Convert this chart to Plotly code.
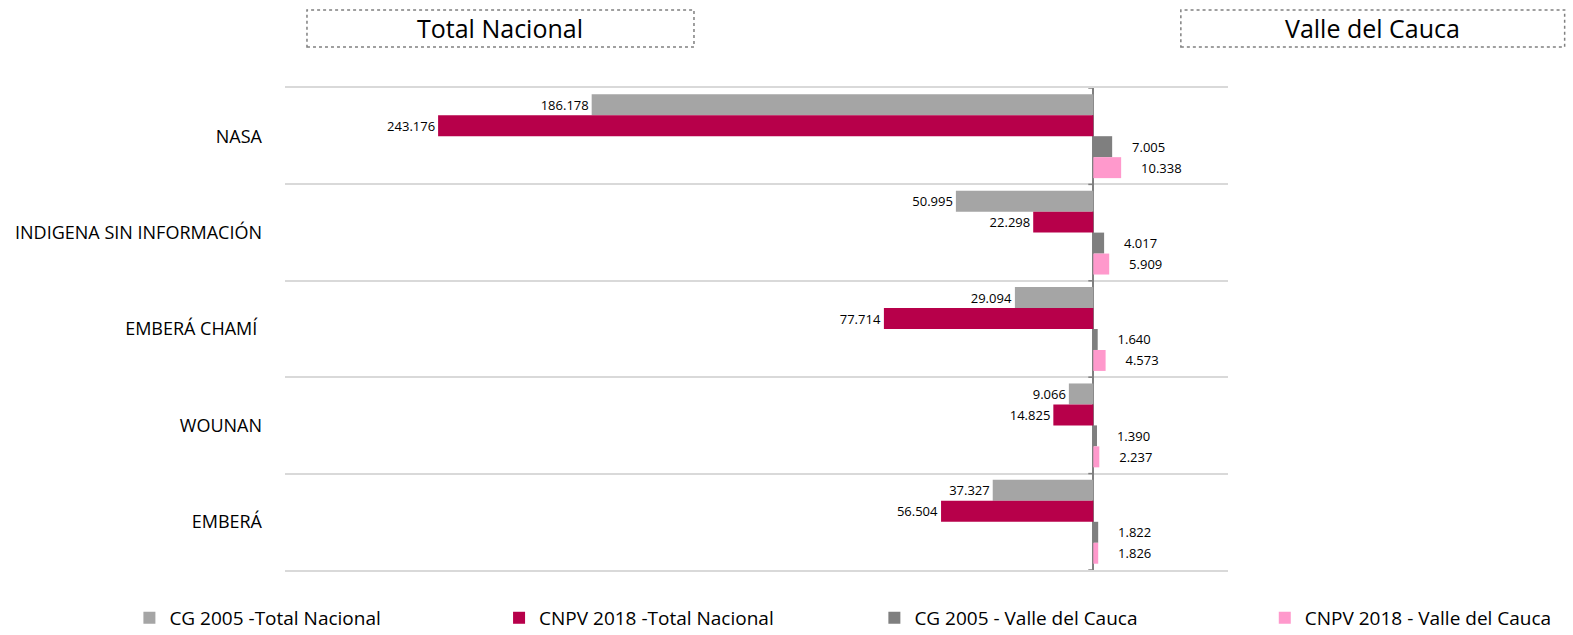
import plotly.graph_objects as go

categories = ["NASA", "INDIGENA SIN INFORMACIÓN", "EMBERÁ CHAMÍ ", "WOUNAN", "EMBERÁ"]
cg2005_nacional = [186178, 50995, 29094, 9066, 37327]
cnpv2018_nacional = [243176, 22298, 77714, 14825, 56504]
cg2005_valle = [7005, 4017, 1640, 1390, 1822]
cnpv2018_valle = [10338, 5909, 4573, 2237, 1826]

series_names = ["CG 2005 -Total Nacional", "CNPV 2018 -Total Nacional",
                "CG 2005 - Valle del Cauca", "CNPV 2018 - Valle del Cauca"]
colors = ["#A5A5A5", "#B7004A", "#7F7F7F", "#FF99CC"]
legend_ids = ["legend", "legend2", "legend3", "legend4"]
legend_x = [-0.165, 0.227, 0.625, 1.039]


def fmt(v):
    return f"{v:,}".replace(",", ".")


fig = go.Figure()
data_sets = [
    ([-v for v in cg2005_nacional], [fmt(v) for v in cg2005_nacional]),
    ([-v for v in cnpv2018_nacional], [fmt(v) for v in cnpv2018_nacional]),
    (cg2005_valle, ["\u00a0" * 5 + fmt(v) for v in cg2005_valle]),
    (cnpv2018_valle, ["\u00a0" * 5 + fmt(v) for v in cnpv2018_valle]),
]
for (xs, txt), name, col, lg in zip(data_sets, series_names, colors, legend_ids):
    fig.add_trace(go.Bar(
        y=categories, x=xs, orientation="h", name=name, legend=lg,
        marker=dict(color=col, line=dict(width=0)),
        text=txt, textposition="outside",
        textfont=dict(family="Open Sans", size=13, color="#000000"),
        cliponaxis=False,
    ))

shapes = []
# tick marks on the category axis at zero
for i in range(len(categories) + 1):
    shapes.append(dict(type="line", xref="x", yref="y", xsizemode="pixel", xanchor=0,
                       x0=-5, x1=0, y0=i - 0.5, y1=i - 0.5,
                       line=dict(color="#808080", width=1.5)))
# title boxes
shapes.append(dict(type="rect", xref="paper", yref="paper", x0=0.0233, x1=0.4337,
                   y0=1.085, y1=1.162, line=dict(color="#808080", width=1.5, dash="dot")))
shapes.append(dict(type="rect", xref="paper", yref="paper", x0=0.950, x1=1.357,
                   y0=1.085, y1=1.162, line=dict(color="#808080", width=1.5, dash="dot")))

annotations = [
    dict(text="Total Nacional", xref="paper", yref="paper", x=0.2285, y=1.1235,
         xanchor="center", yanchor="middle",
         showarrow=False, font=dict(family="Open Sans", size=25, color="#000000")),
    dict(text="Valle del Cauca", xref="paper", yref="paper", x=1.1535, y=1.1235,
         xanchor="center", yanchor="middle",
         showarrow=False, font=dict(family="Open Sans", size=25, color="#000000")),
]

legend_common = dict(orientation="h", y=-0.06, xanchor="left", yanchor="top",
                     font=dict(family="Open Sans", size=19, color="#000000"),
                     bgcolor="rgba(0,0,0,0)")

fig.update_layout(
    width=1573, height=635,
    paper_bgcolor="white", plot_bgcolor="white",
    margin=dict(l=285, r=345, t=88, b=65, autoexpand=False),
    barmode="group", bargap=0.13, bargroupgap=0,
    showlegend=True,
    legend=dict(x=legend_x[0], **legend_common),
    legend2=dict(x=legend_x[1], **legend_common),
    legend3=dict(x=legend_x[2], **legend_common),
    legend4=dict(x=legend_x[3], **legend_common),
    xaxis=dict(range=[-300000, 50000], showgrid=False, showticklabels=False,
               showline=True, mirror=True, linecolor="#D9D9D9", linewidth=1.5,
               zeroline=True, zerolinecolor="#808080", zerolinewidth=2, ticks=""),
    yaxis=dict(range=[4.5, -0.5], tickson="boundaries", showgrid=True,
               gridcolor="#D9D9D9", gridwidth=1.5, ticks="", ticklabelstandoff=22,
               tickfont=dict(family="Open Sans", size=18, color="#000000"),
               showline=False, automargin=False),
    shapes=shapes, annotations=annotations,
)

fig.write_html("out.html", config={"displayModeBar": False},
               post_script="document.body.style.margin='0';")
